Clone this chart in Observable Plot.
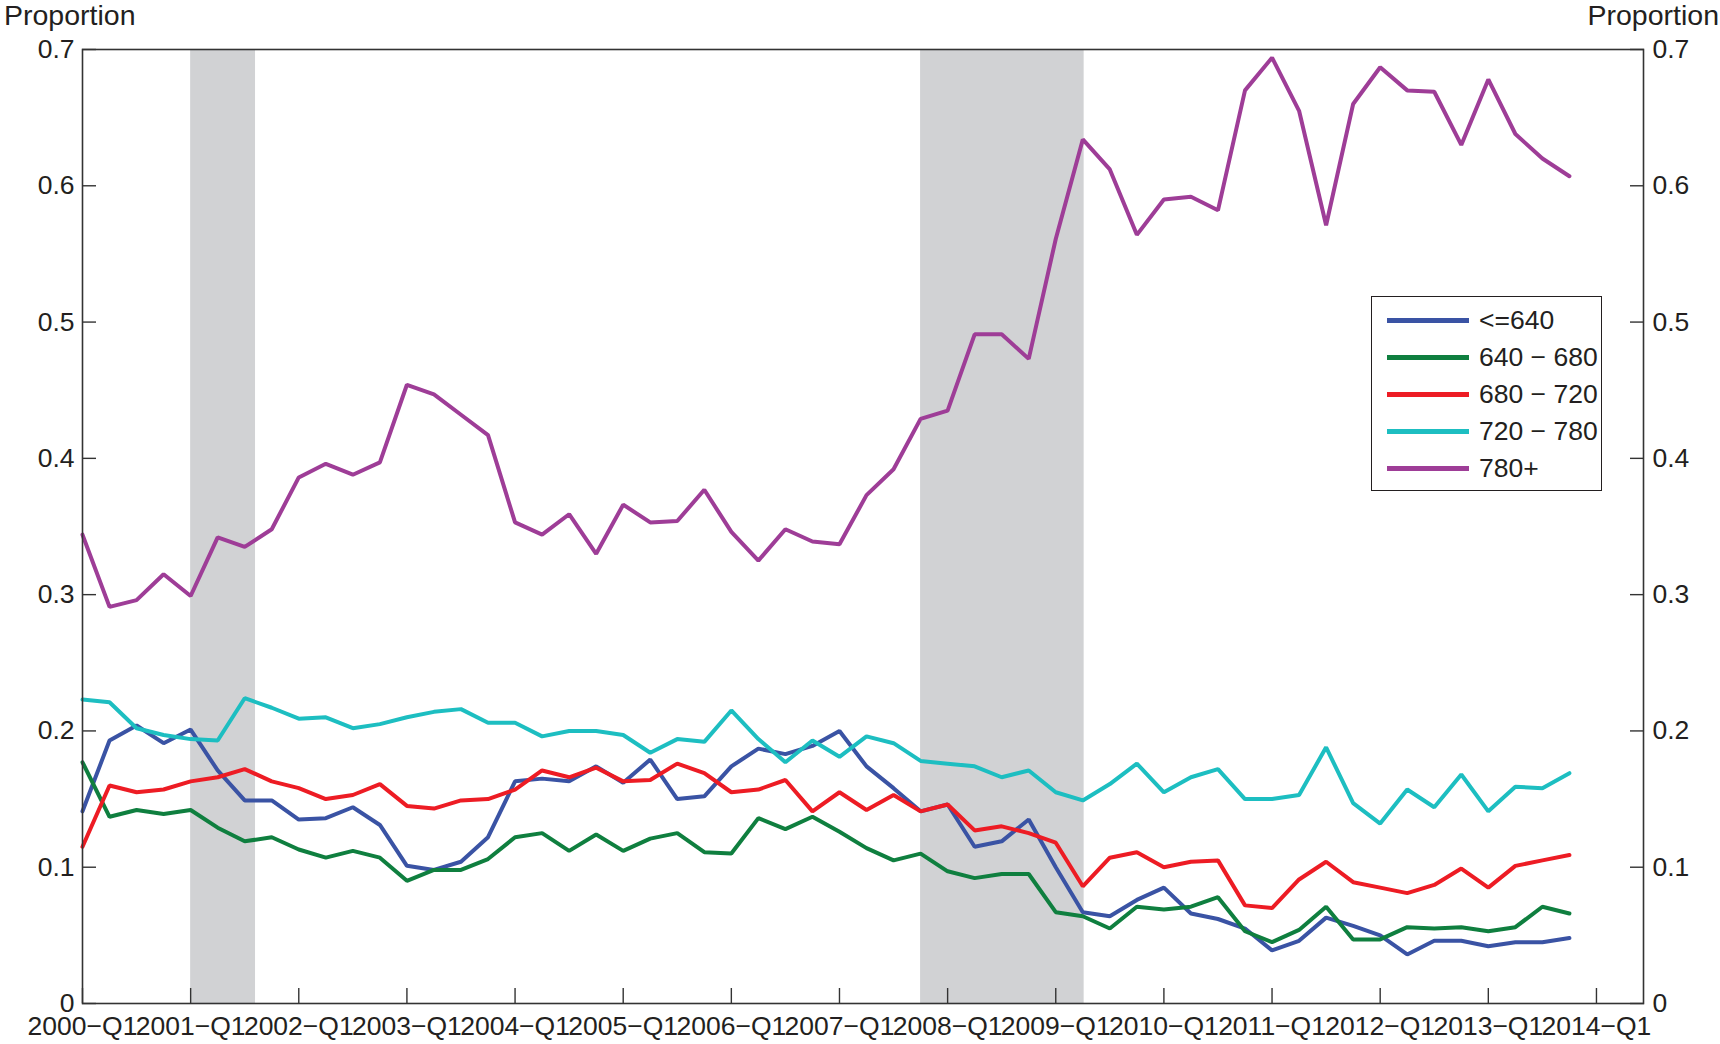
<!DOCTYPE html>
<html>
<head>
<meta charset="utf-8">
<script src="https://cdn.jsdelivr.net/npm/d3@7"></script>
<script src="https://cdn.jsdelivr.net/npm/@observablehq/plot@0.6"></script>
<style>
  html, body { margin: 0; padding: 0; background: #fff; }
  body { width: 1720px; height: 1044px; position: relative; overflow: hidden;
         font-family: "Liberation Sans", Arial, Helvetica, sans-serif; color: #231f20; }
  #chart { position: absolute; left: 0; top: 0; }
  .ylab { position: absolute; top: 0px; font-size: 28.5px; line-height: 31px; }
  #legend { position: absolute; left: 1371px; top: 296px; width: 229px; height: 193px;
            border: 1.6px solid #231f20; background: #fff; box-sizing: content-box; }
  .row { position: absolute; left: 0; height: 30px; }
  .sw { position: absolute; left: 15px; width: 82px; height: 4.5px; }
  .lt { position: absolute; left: 107px; font-size: 26.5px; white-space: nowrap; line-height: 30px; }
</style>
</head>
<body>
<div id="chart"></div>
<div class="ylab" style="left:4px">Proportion</div>
<div class="ylab" style="right:1px">Proportion</div>
<div id="legend"></div>
<script>
// Series names and colors
const seriesNames = ["<=640", "640 \u2212 680", "680 \u2212 720", "720 \u2212 780", "780+"];
const seriesColors = ["#3a53a4", "#0f7f3f", "#ed1c24", "#1dbec1", "#9e3d97"];

// Quarter index 0 = 2000-Q1 ... 55 = 2013-Q4
const le640 = [0.141,0.193,0.204,0.191,0.201,0.171,0.149,0.149,0.135,0.136,0.144,0.131,0.101,0.098,0.104,0.122,
  0.163,0.165,0.163,0.174,0.162,0.179,0.150,0.152,0.174,0.187,0.183,0.189,0.200,0.174,0.158,0.141,
  0.146,0.115,0.119,0.135,0.100,0.067,0.064,0.076,0.085,0.066,0.062,0.055,0.039,0.046,0.063,0.057,
  0.050,0.036,0.046,0.046,0.042,0.045,0.045,0.048];
const s640_680 = [0.177,0.137,0.142,0.139,0.142,0.129,0.119,0.122,0.113,0.107,0.112,0.107,0.090,0.098,0.098,0.106,
  0.122,0.125,0.112,0.124,0.112,0.121,0.125,0.111,0.110,0.136,0.128,0.137,0.126,0.114,0.105,0.110,
  0.097,0.092,0.095,0.095,0.067,0.064,0.055,0.071,0.069,0.071,0.078,0.053,0.045,0.054,0.071,0.047,
  0.047,0.056,0.055,0.056,0.053,0.056,0.071,0.066];
const s680_720 = [0.115,0.160,0.155,0.157,0.163,0.166,0.172,0.163,0.158,0.150,0.153,0.161,0.145,0.143,0.149,0.150,
  0.157,0.171,0.166,0.173,0.163,0.164,0.176,0.169,0.155,0.157,0.164,0.141,0.155,0.142,0.153,0.141,
  0.146,0.127,0.130,0.125,0.118,0.086,0.107,0.111,0.100,0.104,0.105,0.072,0.070,0.091,0.104,0.089,
  0.085,0.081,0.087,0.099,0.085,0.101,0.105,0.109];
const s720_780 = [0.223,0.221,0.202,0.197,0.194,0.193,0.224,0.217,0.209,0.210,0.202,0.205,0.210,0.214,0.216,0.206,
  0.206,0.196,0.200,0.200,0.197,0.184,0.194,0.192,0.215,0.194,0.177,0.193,0.181,0.196,0.191,0.178,
  0.176,0.174,0.166,0.171,0.155,0.149,0.161,0.176,0.155,0.166,0.172,0.150,0.150,0.153,0.188,0.147,
  0.132,0.157,0.144,0.168,0.141,0.159,0.158,0.169];
const s780p = [0.344,0.291,0.296,0.315,0.299,0.342,0.335,0.348,0.386,0.396,0.388,0.397,0.454,0.447,0.432,0.417,
  0.353,0.344,0.359,0.330,0.366,0.353,0.354,0.377,0.346,0.325,0.348,0.339,0.337,0.373,0.392,0.429,
  0.435,0.491,0.491,0.473,0.561,0.634,0.612,0.564,0.590,0.592,0.582,0.670,0.694,0.655,0.571,0.660,
  0.687,0.670,0.669,0.630,0.678,0.638,0.620,0.607];

// Recession periods (quarter index)
const recessionStart = [4, 31];
const recessionEnd = [6.4, 37.05];

// Ticks
const xTickValues = [0,4,8,12,16,20,24,28,32,36,40,44,48,52,56];
const xTickLabels = ["2000\u2212Q1","2001\u2212Q1","2002\u2212Q1","2003\u2212Q1","2004\u2212Q1","2005\u2212Q1",
  "2006\u2212Q1","2007\u2212Q1","2008\u2212Q1","2009\u2212Q1","2010\u2212Q1","2011\u2212Q1","2012\u2212Q1",
  "2013\u2212Q1","2014\u2212Q1"];
const yTickValues = [0, 0.1, 0.2, 0.3, 0.4, 0.5, 0.6, 0.7];
const yTickLabels = ["0","0.1","0.2","0.3","0.4","0.5","0.6","0.7"];

const allSeries = [le640, s640_680, s680_720, s720_780, s780p];
const data = [];
allSeries.forEach((arr, k) => arr.forEach((v, i) => data.push({q: i, v, series: seriesNames[k]})));
const recessions = recessionStart.map((s, i) => ({start: s, end: recessionEnd[i]}));

const axisColor = "#333";
const fmtX = d => xTickLabels[xTickValues.indexOf(d)];
const fmtY = d => yTickLabels[yTickValues.indexOf(d)];

const chart = Plot.plot({
  width: 1720,
  height: 1044,
  marginLeft: 82,
  marginRight: 77,
  marginTop: 49,
  marginBottom: 41,
  style: {fontFamily: '"Liberation Sans", Arial, Helvetica, sans-serif', fontSize: "26px", color: "#231f20", background: "#fff"},
  x: {domain: [0, 57.74]},
  y: {domain: [0, 0.7]},
  color: {domain: seriesNames, range: seriesColors},
  marks: [
    Plot.rectX(recessions, {x1: "start", x2: "end", fill: "#d1d2d4"}),
    Plot.line(data, {x: "q", y: "v", z: "series", stroke: "series", strokeWidth: 4, strokeLinejoin: "miter"}),
    Plot.frame({stroke: axisColor, strokeWidth: 1.6}),
    // inward ticks
    Plot.axisY({anchor: "left", ticks: yTickValues, tickSize: -14, fill: "none", label: null, stroke: axisColor, strokeWidth: 1.4}),
    Plot.axisY({anchor: "right", ticks: yTickValues, tickSize: -14, fill: "none", label: null, stroke: axisColor, strokeWidth: 1.4}),
    Plot.axisX({anchor: "bottom", ticks: xTickValues, tickSize: -15, fill: "none", label: null, stroke: axisColor, strokeWidth: 1.4}),
    // labels
    Plot.axisY({anchor: "left", ticks: yTickValues, tickSize: 0, tickPadding: 8, tickFormat: fmtY, label: null, fontSize: 26.5}),
    Plot.axisY({anchor: "right", ticks: yTickValues, tickSize: 0, tickPadding: 9, tickFormat: fmtY, label: null, fontSize: 26.5}),
    Plot.axisX({anchor: "bottom", ticks: xTickValues, tickSize: 0, tickPadding: 13, tickFormat: fmtX, label: null, fontSize: 26.5})
  ]
});
document.getElementById("chart").appendChild(chart);

// Legend
const legend = document.getElementById("legend");
const rowTops = [8, 45, 82, 119, 156];
seriesNames.forEach((name, i) => {
  const row = document.createElement("div");
  row.className = "row";
  row.style.top = rowTops[i] + "px";
  row.style.width = "229px";
  const sw = document.createElement("div");
  sw.className = "sw";
  sw.style.background = seriesColors[i];
  sw.style.top = "13px";
  const lt = document.createElement("div");
  lt.className = "lt";
  lt.style.top = "0px";
  lt.textContent = name;
  row.appendChild(sw);
  row.appendChild(lt);
  legend.appendChild(row);
});
</script>
</body>
</html>
